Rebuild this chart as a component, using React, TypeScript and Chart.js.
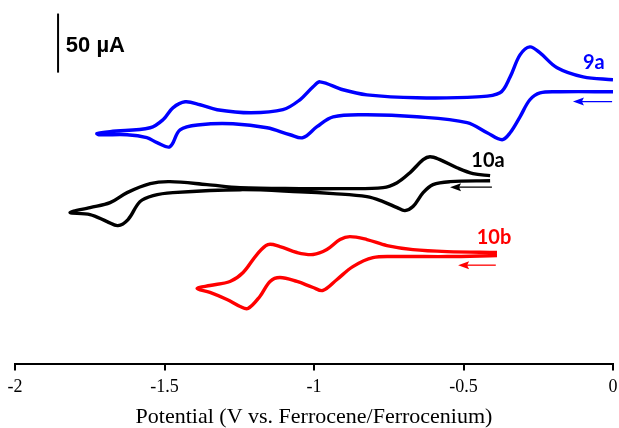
import React, { useEffect, useRef } from "react";
import { Chart, registerables } from "chart.js";

Chart.register(...registerables);

// Potential (V vs. Fc/Fc+) and offset current (µA)
const x9a = [0, -0.177, -0.244, -0.278, -0.311, -0.344, -0.371, -0.421, -0.488, -0.656, -0.823, -0.936, -0.99, -1.037, -1.08, -1.157, -1.271, -1.381, -1.448, -1.482, -1.525, -1.559, -1.625, -1.716, -1.726,
  -1.682, -1.548, -1.505, -1.472, -1.431, -1.381, -1.324, -1.211, -1.104, -1.047, -1.003, -0.98, -0.903, -0.823, -0.656, -0.455, -0.378, -0.344, -0.311, -0.278, -0.244, -0.187, -0.1, 0];
const y9a = [230.8, 230.8, 229.9, 224.0, 209.6, 196.1, 190.2, 196.1, 204.6, 209.6, 211.3, 209.6, 201.2, 191.9, 194.4, 200.3, 203.7, 202.9, 198.6, 184.3, 187.7, 191.9, 194.4, 194.4, 195.3,
  197.0, 200.3, 207.1, 217.2, 222.3, 219.8, 215.6, 213.0, 215.6, 224.0, 235.0, 239.2, 232.5, 228.2, 225.7, 226.5, 229.9, 243.4, 262.0, 268.8, 263.7, 251.1, 243.4, 240.9];

const x10a = [-0.411, -0.545, -0.602, -0.635, -0.669, -0.696, -0.722, -0.769, -0.823, -0.936, -1.047, -1.247, -1.472, -1.538, -1.582, -1.622, -1.656, -1.692, -1.749, -1.816,
  -1.749, -1.682, -1.625, -1.548, -1.482, -1.358, -1.247, -1.047, -0.913, -0.769, -0.722, -0.679, -0.635, -0.612, -0.579, -0.522, -0.468, -0.411];
const y10a = [155.5, 154.7, 152.2, 145.4, 133.6, 130.2, 132.7, 137.8, 142.0, 144.6, 146.2, 147.9, 145.4, 142.9, 137.8, 122.6, 117.5, 120.9, 126.8, 128.5,
  132.7, 136.9, 145.4, 153.0, 154.7, 152.2, 149.6, 148.8, 148.8, 149.6, 153.8, 162.3, 173.3, 175.8, 173.3, 166.5, 161.5, 159.8];

const x10b = [-0.388, -0.555, -0.722, -0.803, -0.87, -0.923, -0.97, -1.003, -1.057, -1.114, -1.147, -1.181, -1.221, -1.247, -1.291, -1.348, -1.391,
  -1.348, -1.281, -1.237, -1.191, -1.154, -1.114, -1.057, -1.003, -0.957, -0.913, -0.88, -0.823, -0.756, -0.669, -0.555, -0.388];
const y10b = [92.1, 91.3, 91.3, 90.4, 82.8, 71.9, 62.6, 65.1, 70.2, 73.5, 70.2, 57.5, 47.3, 49.0, 54.9, 60.9, 64.2,
  66.8, 70.2, 77.8, 93.0, 101.4, 99.7, 94.7, 93.0, 97.2, 105.7, 108.2, 105.7, 100.6, 97.2, 95.5, 94.7];

const xTicks = [-2, -1.5, -1, -0.5, 0];
const seriesLabels = ["9a", "10a", "10b"];
const seriesColors = ["#0000ff", "#000000", "#ff0000"];
const scaleBarText = "50 µA";

function pts(xs: number[], ys: number[]) {
  return xs.map((x, i) => ({ x, y: ys[i] }));
}

const annotations = {
  id: "annotations",
  afterDatasetsDraw(chart: any) {
    const { ctx, scales } = chart;
    const X = (v: number) => scales.x.getPixelForValue(v);
    const Y = (v: number) => scales.y.getPixelForValue(v);
    ctx.save();
    // scale bar
    ctx.strokeStyle = "#000";
    ctx.lineWidth = 2;
    ctx.beginPath();
    ctx.moveTo(X(-1.856), Y(297));
    ctx.lineTo(X(-1.856), Y(247));
    ctx.stroke();
    ctx.fillStyle = "#000";
    ctx.font = "bold 22px 'Liberation Sans', Arial, sans-serif";
    ctx.textBaseline = "middle";
    ctx.textAlign = "left";
    ctx.fillText(scaleBarText, X(-1.83), Y(270));

    // labels
    const labelPos = [
      [-0.064, 255.3],
      [-0.418, 172.5],
      [-0.398, 107.0],
    ];
    ctx.font = "bold 20px Lato, 'Open Sans', sans-serif";
    ctx.textAlign = "center";
    labelPos.forEach((p, i) => {
      ctx.fillStyle = seriesColors[i];
      ctx.fillText(seriesLabels[i], X(p[0]), Y(p[1]));
    });

    // arrows
    const arrows = [
      [-0.003, -0.134, 222.5],
      [-0.405, -0.545, 150.0],
      [-0.392, -0.518, 84.0],
    ];
    arrows.forEach((a, i) => {
      const x1 = X(a[0]);
      const x2 = X(a[1]);
      const y = Y(a[2]);
      ctx.strokeStyle = seriesColors[i];
      ctx.fillStyle = seriesColors[i];
      ctx.lineWidth = 1.3;
      ctx.beginPath();
      ctx.moveTo(x1, y);
      ctx.lineTo(x2 + 6, y);
      ctx.stroke();
      ctx.beginPath();
      ctx.moveTo(x2, y);
      ctx.lineTo(x2 + 11, y - 4);
      ctx.lineTo(x2 + 9, y);
      ctx.lineTo(x2 + 11, y + 4);
      ctx.closePath();
      ctx.fill();
    });
    ctx.restore();
  },
};

export default function App() {
  const ref = useRef<HTMLCanvasElement>(null);
  useEffect(() => {
    if (!ref.current) return;
    const chart = new Chart(ref.current, {
      type: "scatter",
      data: {
        datasets: [
          { label: seriesLabels[0], data: pts(x9a, y9a), borderColor: seriesColors[0], backgroundColor: seriesColors[0] },
          { label: seriesLabels[1], data: pts(x10a, y10a), borderColor: seriesColors[1], backgroundColor: seriesColors[1] },
          { label: seriesLabels[2], data: pts(x10b, y10b), borderColor: seriesColors[2], backgroundColor: seriesColors[2] },
        ].map((d) => ({ ...d, showLine: true, borderWidth: 3.4, pointRadius: 0, tension: 0.35, fill: false })),
      },
      options: {
        animation: false,
        responsive: false,
        layout: { padding: { left: 15, right: 6, top: 10, bottom: 0 } },
        plugins: { legend: { display: false }, tooltip: { enabled: false } },
        scales: {
          x: {
            type: "linear",
            min: -2,
            max: 0,
            afterBuildTicks: (axis: any) => {
              axis.ticks = xTicks.map((v) => ({ value: v }));
            },
            afterFit: (axis: any) => {
              axis.paddingLeft = 0;
              axis.paddingRight = 0;
            },
            grid: { drawOnChartArea: false, drawTicks: true, tickLength: 6, color: "#000", lineWidth: 2 },
            border: { display: true, color: "#000", width: 2 },
            ticks: {
              color: "#000",
              padding: 6,
              font: { family: "'Liberation Serif', 'Times New Roman', serif", size: 18 },
              maxRotation: 0,
              callback: (v: any) => String(v),
            },
            title: {
              display: true,
              text: "Potential (V vs. Ferrocene/Ferrocenium)",
              color: "#000",
              font: { family: "'Liberation Serif', 'Times New Roman', serif", size: 22, lineHeight: 1 },
              padding: { top: 2, bottom: 0 },
            },
          },
          y: { type: "linear", display: false, min: 0, max: 300 },
        },
      },
      plugins: [annotations],
    });
    return () => chart.destroy();
  }, []);
  return (
    <canvas
      ref={ref}
      width={619}
      height={428}
      style={{ position: "absolute", left: 0, top: 0, width: 619, height: 428, display: "block" }}
    />
  );
}
